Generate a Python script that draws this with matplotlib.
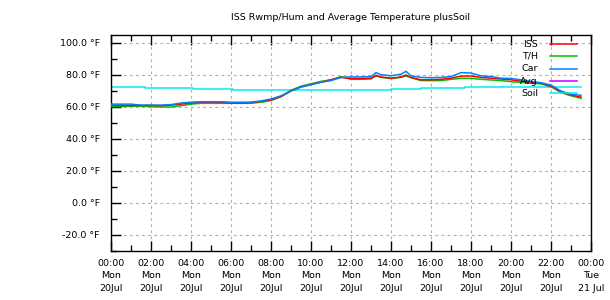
import matplotlib
matplotlib.use('Agg')
import matplotlib.pyplot as plt
from matplotlib.lines import Line2D
from matplotlib.ticker import MultipleLocator

# hours since 00:00 Mon 20 Jul
hours = [0.0, 0.5, 1.0, 1.5, 2.0, 2.5, 3.0, 3.5, 4.0, 4.5, 5.0, 5.5, 6.0, 6.5, 7.0, 7.5,
         8.0, 8.5, 9.0, 9.5, 10.0, 10.5, 11.0, 11.5, 12.0, 12.5, 13.0, 13.25, 13.5, 14.0,
         14.5, 14.75, 15.0, 15.5, 16.0, 16.5, 17.0, 17.5, 18.0, 18.5, 19.0, 19.5, 20.0,
         20.5, 21.0, 21.5, 22.0, 22.5, 23.0, 23.5]

iss_temp = [61.2, 61.0, 61.0, 61.0, 61.0, 60.8, 61.2, 61.8, 62.5, 63.0, 63.0, 63.0, 62.5, 62.5,
            62.8, 63.5, 64.5, 66.5, 70.0, 72.5, 74.0, 75.5, 77.0, 78.5, 77.8, 77.8, 78.0, 79.8,
            78.8, 78.0, 78.8, 80.0, 78.5, 77.0, 77.0, 77.3, 78.0, 79.3, 79.4, 78.5, 78.0, 77.5,
            77.0, 76.2, 75.5, 74.8, 73.0, 69.5, 67.5, 66.2]
th_temp = [60.3, 60.3, 60.5, 60.5, 60.2, 60.0, 60.0, 60.8, 61.8, 62.3, 62.3, 62.3, 62.3, 62.3,
           62.3, 63.0, 64.0, 66.5, 70.5, 73.0, 74.5, 76.0, 77.0, 79.0, 77.3, 77.3, 77.5, 79.4,
           78.5, 77.8, 78.5, 79.4, 78.3, 76.5, 76.5, 76.5, 77.3, 77.9, 77.9, 77.3, 76.9, 76.5,
           75.8, 75.4, 74.8, 74.5, 72.7, 69.0, 67.0, 65.4]
car_temp = [61.8, 61.8, 61.8, 61.2, 61.2, 61.2, 61.5, 62.5, 63.0, 63.3, 63.3, 63.3, 63.0, 63.0,
            63.0, 63.8, 65.0, 67.0, 70.0, 72.5, 74.0, 75.5, 76.5, 78.5, 78.8, 78.8, 79.0, 81.5,
            80.2, 79.5, 80.5, 82.3, 79.5, 78.5, 78.3, 78.5, 79.0, 81.5, 81.2, 79.5, 79.0, 78.0,
            77.8, 77.0, 76.0, 75.2, 73.7, 70.0, 68.0, 67.3]
avg_temp = []

soil_hours = [0.0, 1.7, 4.1, 6.1, 14.0, 15.5, 17.7, 23.5]
soil_temp = [72.3, 71.7, 71.0, 70.5, 71.0, 71.7, 72.4, 72.4]

tick_hours = list(range(0, 25, 2))
tick_labels = [f'{h % 24:02d}:00\nMon\n20Jul' for h in range(0, 24, 2)] + ['00:00\nTue\n21 Jul']

plt.rcParams['font.family'] = 'DejaVu Sans'
plt.rcParams['font.size'] = 6.8

fig = plt.figure(figsize=(6.1, 3.0), dpi=100)
ax = fig.add_axes([111 / 610, 49 / 300, 480 / 610, 216 / 300])

colors = {'ISS': '#ff0000', 'T/H': '#00c000', 'Car': '#0080ff', 'Avg': '#c000ff', 'Soil': '#00eeee'}

ax.plot(soil_hours, soil_temp, color=colors['Soil'], lw=1.1, drawstyle='steps-post', zorder=2)
ax.plot(hours, th_temp, color=colors['T/H'], lw=1.1, zorder=3)
ax.plot(hours, iss_temp, color=colors['ISS'], lw=1.1, zorder=4)
ax.plot(hours, car_temp, color=colors['Car'], lw=1.1, zorder=5)
ax.plot(hours[:len(avg_temp)], avg_temp, color=colors['Avg'], lw=1.1, zorder=6)

ax.set_xlim(0, 24)
ax.set_ylim(-30, 105)
ax.set_xticks(tick_hours)
ax.set_xticklabels(tick_labels, linespacing=1.45)
ax.xaxis.set_minor_locator(MultipleLocator(1))
ax.set_yticks(range(-20, 101, 20))
ax.set_yticklabels([f'{v:.1f} °F' for v in range(-20, 101, 20)])
ax.yaxis.set_minor_locator(MultipleLocator(10))

ax.tick_params(which='major', direction='in', length=7, width=1, top=True, pad=6)
ax.tick_params(which='minor', direction='in', length=4, width=1, top=True)
ax.tick_params(axis='y', pad=8)
ax.grid(True, which='major', color='#b0b0b0', ls=(0, (2.5, 3)), lw=0.8)
for s in ax.spines.values():
    s.set_linewidth(1)

fig.text(351 / 610, 1 - 17 / 300, 'ISS Rwmp/Hum and Average Temperature plusSoil',
         ha='center', va='center')

# key in the upper right, labels right aligned
rows = [0.958, 0.901, 0.844, 0.787, 0.731]
for (name, col), y in zip(colors.items(), rows):
    ax.text(0.8896, y, name, transform=ax.transAxes, ha='right', va='center', zorder=10)
    ax.add_line(Line2D([0.9146, 0.971], [y, y], color=col, lw=1.1,
                       transform=ax.transAxes, zorder=10))

fig.savefig('out.png', dpi=100)
